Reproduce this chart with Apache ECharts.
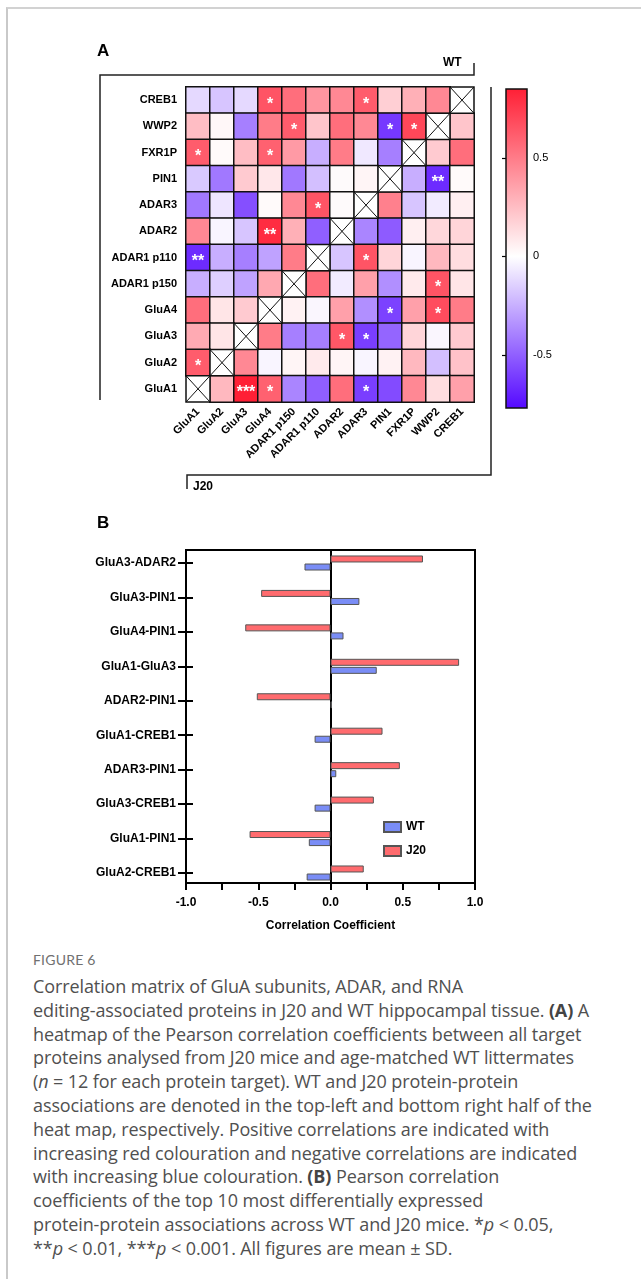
<!DOCTYPE html>
<html>
<head>
<meta charset="utf-8">
<script src="https://cdn.jsdelivr.net/npm/echarts@6/dist/echarts.min.js"></script>
<style>
html,body{margin:0;padding:0;background:#fff;}
#frame{position:absolute;left:6px;top:7px;width:660px;height:1270px;border-left:2px solid #c9c9c9;border-top:2px solid #d2d2d2;}
#chart{position:absolute;left:0;top:0;width:641px;height:940px;}
#figno{position:absolute;left:33px;top:951px;font-family:Lato,"Open Sans",sans-serif;font-size:14px;color:#707070;letter-spacing:0.2px;}
#caption{position:absolute;left:33px;top:975px;font-family:"Open Sans",Lato,sans-serif;font-size:18px;line-height:23.8px;color:#505050;white-space:nowrap;letter-spacing:-0.1px;}
#caption b{font-weight:700;color:#444;}
</style>
</head>
<body>
<div id="frame"></div>
<div id="chart"></div>
<div id="figno">FIGURE 6</div>
<div id="caption">Correlation matrix of GluA subunits, ADAR, and RNA<br>editing-associated proteins in J20 and WT hippocampal tissue. <b>(A)</b> A<br>heatmap of the Pearson correlation coefficients between all target<br>proteins analysed from J20 mice and age-matched WT littermates<br>(<i>n</i> = 12 for each protein target). WT and J20 protein-protein<br>associations are denoted in the top-left and bottom right half of the<br>heat map, respectively. Positive correlations are indicated with<br>increasing red colouration and negative correlations are indicated<br>with increasing blue colouration. <b>(B)</b> Pearson correlation<br>coefficients of the top 10 most differentially expressed<br>protein-protein associations across WT and J20 mice. *<i>p</i> &lt; 0.05,<br>**<i>p</i> &lt; 0.01, ***<i>p</i> &lt; 0.001. All figures are mean ± SD.</div>
<script>
// ---------- Panel A data ----------
const proteins = ['GluA1','GluA2','GluA3','GluA4','ADAR1 p150','ADAR1 p110','ADAR2','ADAR3','PIN1','FXR1P','WWP2','CREB1'];
// Each row: correlations with columns GluA1..CREB1 (null = diagonal)
const rowCREB1   = [-0.12, -0.18, -0.12,  0.65,  0.55,  0.40,  0.45,  0.62,  0.18,  0.30,  0.45,  null];
const rowWWP2    = [ 0.25,  0.03, -0.40,  0.50,  0.62,  0.22,  0.55,  0.45, -0.62,  0.70,  null,  0.22];
const rowFXR1P   = [ 0.62,  0.02,  0.25,  0.60,  0.38, -0.25,  0.50, -0.07, -0.40,  null,  0.20,  0.55];
const rowPIN1    = [-0.17, -0.42,  0.20,  0.09, -0.42, -0.20,  0.01,  0.04,  null, -0.25, -0.66,  0.02];
const rowADAR3   = [-0.42, -0.08, -0.55,  0.02,  0.45,  0.65,  0.01,  null,  0.48, -0.18, -0.06,  0.06];
const rowADAR2   = [ 0.45, -0.03, -0.18,  0.80,  0.30, -0.50,  null, -0.38, -0.51,  0.06,  0.15,  0.16];
const rowP110    = [-0.66, -0.25, -0.40, -0.29,  0.50,  null, -0.18,  0.65,  0.16, -0.03,  0.27,  0.13];
const rowP150    = [-0.25, -0.15, -0.29,  0.33,  null,  0.55, -0.06,  0.36, -0.35,  0.08,  0.65,  0.10];
const rowGluA4   = [ 0.55,  0.10,  0.20,  null,  0.05, -0.02,  0.36, -0.35, -0.59,  0.36,  0.68,  0.50];
const rowGluA3   = [ 0.32,  0.10,  null,  0.50, -0.40, -0.40,  0.64, -0.60, -0.48,  0.16, -0.02,  0.20];
const rowGluA2   = [ 0.62,  null,  0.45, -0.03,  0.04,  0.08,  0.04, -0.03,  0.05,  0.27, -0.20,  0.23];
const rowGluA1   = [ null,  0.27,  0.89,  0.60, -0.38, -0.50,  0.55, -0.60, -0.56,  0.45,  0.13,  0.36];
const heatRows = [
  ['CREB1', rowCREB1], ['WWP2', rowWWP2], ['FXR1P', rowFXR1P], ['PIN1', rowPIN1],
  ['ADAR3', rowADAR3], ['ADAR2', rowADAR2], ['ADAR1 p110', rowP110], ['ADAR1 p150', rowP150],
  ['GluA4', rowGluA4], ['GluA3', rowGluA3], ['GluA2', rowGluA2], ['GluA1', rowGluA1]
];
// [row, column, significance]
const sigMarks = [
  ['CREB1','GluA4','*'], ['CREB1','ADAR3','*'],
  ['WWP2','ADAR1 p150','*'], ['WWP2','PIN1','*'], ['WWP2','FXR1P','*'],
  ['FXR1P','GluA1','*'], ['FXR1P','GluA4','*'],
  ['PIN1','WWP2','**'],
  ['ADAR3','ADAR1 p110','*'],
  ['ADAR2','GluA4','**'],
  ['ADAR1 p110','GluA1','**'], ['ADAR1 p110','ADAR3','*'],
  ['ADAR1 p150','WWP2','*'],
  ['GluA4','PIN1','*'], ['GluA4','WWP2','*'],
  ['GluA3','ADAR2','*'], ['GluA3','ADAR3','*'],
  ['GluA2','GluA1','*'],
  ['GluA1','GluA3','***'], ['GluA1','GluA4','*'], ['GluA1','ADAR3','*']
];
const colorbarMin = -0.77;
const colorbarMax = 0.85;
const colorbarTicks = [-0.5, 0, 0.5];

// ---------- Panel B data ----------
const pairLabels = ['GluA3-ADAR2','GluA3-PIN1','GluA4-PIN1','GluA1-GluA3','ADAR2-PIN1','GluA1-CREB1','ADAR3-PIN1','GluA3-CREB1','GluA1-PIN1','GluA2-CREB1'];
const j20Values = [0.64, -0.48, -0.59, 0.89, -0.51, 0.36, 0.48, 0.30, -0.56, 0.23];
const wtValues  = [-0.18, 0.20, 0.09, 0.32, 0.01, -0.11, 0.04, -0.11, -0.15, -0.165];
const barAxisTicks = [-1, 1, 0.5];

// ---------- styling helpers ----------
const FONT = '"Liberation Sans", Arial, sans-serif';
const RED = [255, 31, 53], WHITE = [255, 255, 255], BLUE = [84, 8, 255];
function mix(a, b, t) { return 'rgb(' + a.map((v, i) => Math.round(v + (b[i] - v) * t)).join(',') + ')'; }
function colorAt(v) {
  if (v >= 0) return mix(WHITE, RED, Math.min(1, v / colorbarMax));
  return mix(WHITE, BLUE, Math.min(1, v / colorbarMin));
}
const nStops = 34;
const mapColors = [];
for (let k = 0; k < nStops; k++) mapColors.push(colorAt(colorbarMin + k * (colorbarMax - colorbarMin) / (nStops - 1)));

// heatmap data
const heatData = [];
heatRows.forEach(([name, vals]) => {
  const yi = proteins.indexOf(name);
  vals.forEach((v, xi) => { if (v !== null) heatData.push([xi, yi, v]); });
});
const starMap = {};
sigMarks.forEach(([r, c, s]) => { starMap[proteins.indexOf(c) + '_' + proteins.indexOf(r)] = s; });
const diagData = proteins.map((p, i) => [i, i]);

const chart = echarts.init(document.getElementById('chart'), null, { renderer: 'canvas' });
const option = {
  animation: false,
  textStyle: { fontFamily: FONT },
  grid: [
    { left: 186, top: 87, width: 288, height: 315 },                 // 0 heatmap
    { left: 506, top: 89, width: 21, height: 319 },                  // 1 colorbar
    { left: 186, top: 550, width: 289, height: 333, show: true, borderColor: '#000', borderWidth: 2, backgroundColor: 'transparent', z: 5 }, // 2 frame
    { left: 186, top: 563, width: 289, height: 310 }                 // 3 bars
  ],
  xAxis: [
    { gridIndex: 0, type: 'category', data: proteins, position: 'bottom',
      axisLine: { show: false },
      axisTick: { alignWithLabel: true, length: 5, lineStyle: { color: '#000', width: 1.2 } },
      axisLabel: { rotate: 45, margin: 8, color: '#000', fontWeight: 'bold', fontSize: 11, fontFamily: FONT, interval: 0 },
      splitLine: { show: false } },
    { gridIndex: 1, type: 'value', min: 0, max: 1, show: false },
    { gridIndex: 2, type: 'value', min: barAxisTicks[0], max: barAxisTicks[1], interval: barAxisTicks[2], position: 'bottom',
      axisLine: { show: false },
      axisTick: { show: true, length: 7, lineStyle: { color: '#000', width: 2 } },
      minorTick: { show: true, splitNumber: 2, length: 7, lineStyle: { color: '#000', width: 2 } },
      axisLabel: { color: '#000', fontWeight: 'bold', fontSize: 12, fontFamily: FONT, margin: 14, formatter: v => v.toFixed(1) },
      splitLine: { show: false },
      name: 'Correlation Coefficient', nameLocation: 'middle', nameGap: 37,
      nameTextStyle: { color: '#000', fontWeight: 'bold', fontSize: 12, fontFamily: FONT } },
    { gridIndex: 3, type: 'value', min: barAxisTicks[0], max: barAxisTicks[1], show: false }
  ],
  yAxis: [
    { gridIndex: 0, type: 'category', data: proteins,
      axisLine: { show: false },
      axisTick: { alignWithLabel: true, length: 5, lineStyle: { color: '#000', width: 1.2 } },
      axisLabel: { margin: 9, color: '#000', fontWeight: 'bold', fontSize: 11, fontFamily: FONT, interval: 0 },
      splitLine: { show: false } },
    { gridIndex: 1, type: 'value', min: colorbarMin, max: colorbarMax, position: 'right',
      axisLine: { show: false },
      axisTick: { show: true, inside: true, length: 4, customValues: colorbarTicks, lineStyle: { color: '#000', width: 1.2 } },
      axisLabel: { show: true, customValues: colorbarTicks, margin: 6, color: '#000', fontSize: 11, fontFamily: FONT,
        formatter: v => (v === 0 ? '0' : String(v)) },
      splitLine: { show: false } },
    { gridIndex: 1, type: 'value', min: colorbarMin, max: colorbarMax, position: 'left',
      axisLine: { show: false },
      axisTick: { show: true, inside: true, length: 4, customValues: colorbarTicks, lineStyle: { color: '#000', width: 1.2 } },
      axisLabel: { show: false }, splitLine: { show: false } },
    { gridIndex: 2, type: 'value', min: 0, max: 1,
      axisLine: { show: true, onZero: true, lineStyle: { color: '#000', width: 2 } },
      axisTick: { show: false }, axisLabel: { show: false }, splitLine: { show: false } },
    { gridIndex: 3, type: 'category', data: pairLabels, inverse: true, boundaryGap: false,
      axisLine: { show: false, onZero: false },
      axisTick: { show: true, length: 8, lineStyle: { color: '#000', width: 2 } },
      axisLabel: { color: '#000', fontWeight: 'bold', fontSize: 12, fontFamily: FONT, margin: 10 },
      splitLine: { show: false } },
    { gridIndex: 3, type: 'category', data: pairLabels, inverse: true, boundaryGap: false, position: 'left',
      axisLine: { show: false, onZero: false },
      axisTick: { show: true, inside: true, length: 7, lineStyle: { color: '#000', width: 2 } },
      axisLabel: { show: false }, splitLine: { show: false } }
  ],
  visualMap: {
    show: false, type: 'continuous', seriesIndex: 0, dimension: 2,
    min: colorbarMin, max: colorbarMax, inRange: { color: mapColors }
  },
  legend: {
    data: ['WT', 'J20'], orient: 'vertical', left: 378, top: 816,
    itemWidth: 17, itemHeight: 10, itemGap: 12, icon: 'rect',
    textStyle: { color: '#000', fontWeight: 'bold', fontSize: 12, fontFamily: FONT }
  },
  series: [
    { type: 'heatmap', xAxisIndex: 0, yAxisIndex: 0, data: heatData,
      itemStyle: { borderColor: '#111', borderWidth: 1.5 },
      label: { show: true, color: '#fff', fontWeight: 'bold', fontSize: 16, fontFamily: FONT, offset: [0, 4],
        formatter: p => starMap[p.data[0] + '_' + p.data[1]] || '' },
      emphasis: { disabled: true } },
    { type: 'custom', xAxisIndex: 0, yAxisIndex: 0, data: diagData, silent: true,
      renderItem: (params, api) => {
        const c = api.coord([api.value(0), api.value(1)]);
        const s = api.size([1, 1]);
        const x0 = c[0] - s[0] / 2, y0 = c[1] - s[1] / 2;
        return { type: 'group', children: [
          { type: 'rect', shape: { x: x0, y: y0, width: s[0], height: s[1] }, style: { fill: '#fff', stroke: '#111', lineWidth: 1.5 } },
          { type: 'line', shape: { x1: x0, y1: y0, x2: x0 + s[0], y2: y0 + s[1] }, style: { stroke: '#111', lineWidth: 1 } },
          { type: 'line', shape: { x1: x0 + s[0], y1: y0, x2: x0, y2: y0 + s[1] }, style: { stroke: '#111', lineWidth: 1 } }
        ] };
      } },
    { type: 'custom', xAxisIndex: 1, yAxisIndex: 1, data: [[0.5, colorbarMin, colorbarMax]], silent: true,
      renderItem: (params, api) => {
        const top = api.coord([0, api.value(2)]);
        const bot = api.coord([1, api.value(1)]);
        const z = (colorbarMax) / (colorbarMax - colorbarMin);
        return { type: 'rect', shape: { x: top[0], y: top[1], width: bot[0] - top[0], height: bot[1] - top[1] },
          style: { stroke: '#111', lineWidth: 1.5,
            fill: new echarts.graphic.LinearGradient(0, 0, 0, 1, [
              { offset: 0, color: colorAt(colorbarMax) }, { offset: z, color: '#fff' }, { offset: 1, color: colorAt(colorbarMin) }
            ]) } };
      } },
    { name: 'J20', type: 'bar', xAxisIndex: 3, yAxisIndex: 4, data: j20Values, barWidth: 7, barGap: '15%',
      itemStyle: { color: '#ff6b6e', borderColor: '#555', borderWidth: 1 } },
    { name: 'WT', type: 'bar', xAxisIndex: 3, yAxisIndex: 4, data: wtValues, barWidth: 7, barGap: '15%',
      itemStyle: { color: '#7a8df6', borderColor: '#555', borderWidth: 1 } }
  ],
  graphic: [
    { type: 'text', left: 97, top: 43, style: { text: 'A', font: 'bold 17px ' + FONT, fill: '#000' } },
    { type: 'text', left: 97, top: 515, style: { text: 'B', font: 'bold 17px ' + FONT, fill: '#000' } },
    { type: 'text', left: 443, top: 57, style: { text: 'WT', font: 'bold 12px ' + FONT, fill: '#000' } },
    { type: 'text', left: 193, top: 481, style: { text: 'J20', font: 'bold 12px ' + FONT, fill: '#000' } },
    { type: 'polyline', shape: { points: [[100, 400], [100, 75], [474, 75], [474, 63]] }, style: { stroke: '#222', lineWidth: 1.5, fill: null } },
    { type: 'polyline', shape: { points: [[491, 87], [491, 475], [187, 475], [187, 489]] }, style: { stroke: '#222', lineWidth: 1.5, fill: null } }
  ]
};
chart.setOption(option);
</script>
</body>
</html>
